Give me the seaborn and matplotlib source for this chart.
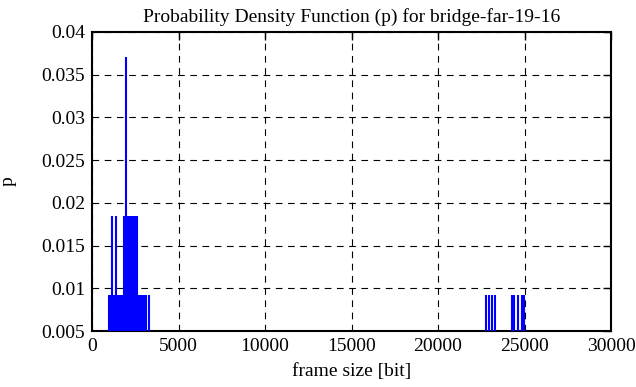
import numpy as np
import pandas as pd
import matplotlib
matplotlib.use("Agg")
import matplotlib.pyplot as plt
import seaborn as sns

# frame sizes [bit] and number of frames with that size (108 frames total)
frame_size = [990, 1060, 1140, 1210, 1290, 1390, 1470, 1550, 1630, 1710, 1790,
              1860, 1950, 2030, 2110, 2190, 2270, 2350, 2430, 2510, 2580,
              2660, 2740, 2820, 2900, 2980, 3060, 3100, 3280,
              22800, 22950, 23110, 23270,
              24280, 24370, 24640, 24840, 24980]
frame_count = [1, 1, 2, 1, 1, 2, 1, 1, 1, 1, 1,
               2, 4, 2, 2, 2, 2, 2, 2, 2, 2,
               1, 1, 1, 1, 1, 1, 1, 1,
               1, 1, 1, 1,
               1, 1, 1, 1, 1]
n_frames = 108

x_ticks = [0, 5000, 10000, 15000, 20000, 25000, 30000]
y_ticks = [0.005, 0.01, 0.015, 0.02, 0.025, 0.03, 0.035, 0.04]

df = pd.DataFrame({"size": frame_size, "count": frame_count})
df["p"] = df["count"] / n_frames

sns.set_theme(style="white")
plt.rcParams["font.family"] = ["Liberation Serif", "DejaVu Serif"]
plt.rcParams["font.size"] = 14
plt.rcParams["text.color"] = "black"
plt.rcParams["axes.labelcolor"] = "black"

fig = plt.figure(figsize=(6.36, 3.87), dpi=100)
ax = fig.add_axes([92 / 636, 1 - 331 / 387, 519 / 636, 299 / 387])

ax.vlines(df["size"], 0, df["p"], color="#0000ff", linewidth=1.5, zorder=3)

ax.set_xlim(0, 30000)
ax.set_ylim(0.005, 0.04)
ax.set_xticks(x_ticks)
ax.set_yticks(y_ticks)
ax.set_xticklabels([str(t) for t in x_ticks])
ax.set_yticklabels(["0.005", "0.01", "0.015", "0.02", "0.025", "0.03", "0.035", "0.04"])
ax.grid(True, color="black", linestyle=(0, (6, 5)), linewidth=0.8)
ax.tick_params(direction="in", length=6, width=1, colors="black", labelsize=14,
               top=True, right=True, pad=5)
for s in ax.spines.values():
    s.set_color("black")
    s.set_linewidth(1.5)

ax.set_title("Probability Density Function (p) for bridge-far-19-16", fontsize=14, pad=7, color="black")
ax.set_xlabel("frame size [bit]", fontsize=14, labelpad=6, color="black")
ax.set_ylabel("p", fontsize=14, labelpad=18, color="black")

fig.savefig("out.png", dpi=100)
